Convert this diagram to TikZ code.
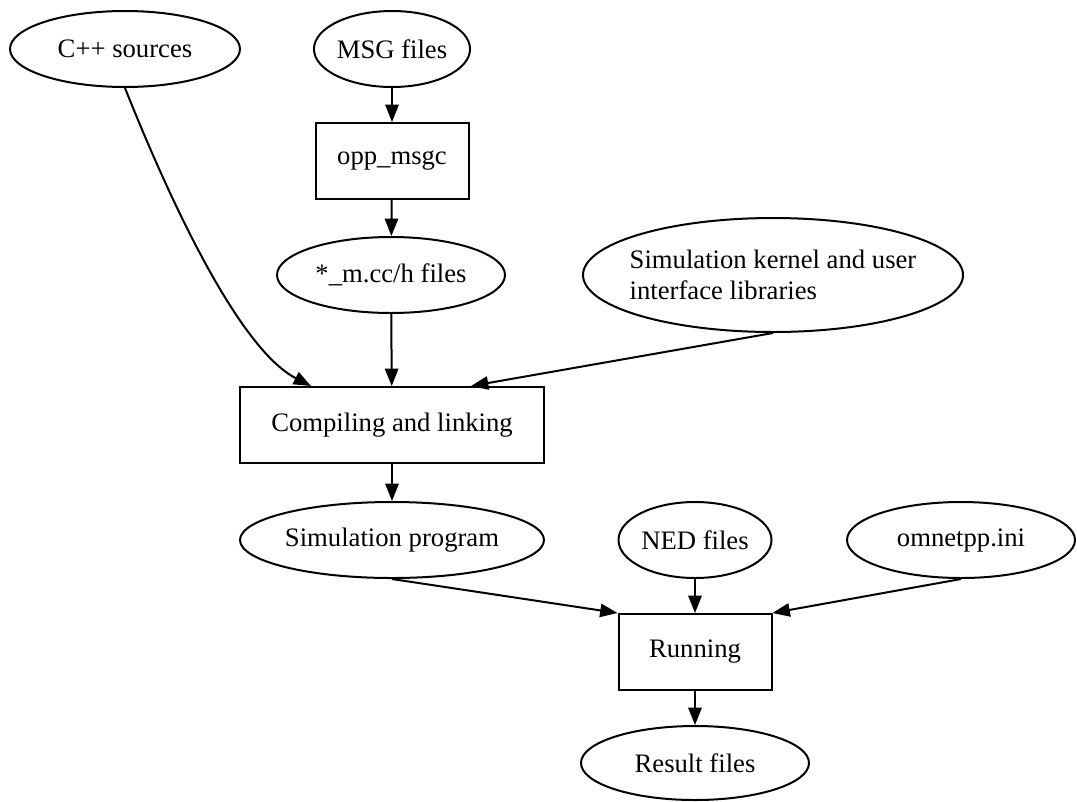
\documentclass[tikz,border=0pt]{standalone}
\usepackage{fontspec}
\setmainfont{Liberation Serif}
\usetikzlibrary{shapes.geometric,arrows.meta,calc}
\begin{document}
\begin{tikzpicture}[x=0.75pt,y=-0.75pt,
  every node/.style={font=\fontsize{20}{23}\selectfont},
  ell/.style={draw,ellipse,line width=1.5pt,inner sep=0pt,minimum height=57pt},
  box/.style={draw,rectangle,line width=1.5pt,inner sep=0pt,minimum height=57pt},
  conn/.style={line width=1.5pt,-{Triangle[length=13pt,width=10pt]}}]
\useasboundingbox (0,0) rectangle (1077,801);
% row 1
\node[ell,minimum width=172.5pt] (cpp) at (125,49) {C++ sources};
\node[ell,minimum width=114.75pt] (msg) at (392,49) {MSG files};
% row 2
\node[box,minimum width=114.75pt] (opp) at (392,161) {opp\_msgc};
% row 3
\node[ell,minimum width=171pt] (mcc) at (391,275) {*\_m.cc/h files};
\node[ell,minimum width=285pt,minimum height=85.5pt] (kern) at (773,275) {};
\node[align=left,inner sep=0pt] (kernt) at (kern.center) {Simulation kernel and user\\interface libraries};
% row 4
\node[box,minimum width=228pt] (comp) at (392,425) {Compiling and linking};
% row 5
\node[ell,minimum width=228pt] (simp) at (392,540) {Simulation program};
\node[ell,minimum width=114.75pt] (ned) at (695,540) {NED files};
\node[ell,minimum width=171pt] (omni) at (961,540) {omnetpp.ini};
% row 6
\node[box,minimum width=114.75pt] (run) at (695,652) {Running};
% row 7
\node[ell,minimum width=171pt,minimum height=55.5pt] (res) at (695,763) {Result files};
% connectors
\draw[conn] (msg) -- (opp);
\draw[conn] (opp) -- (mcc);
\draw[conn] (mcc) -- (comp);
\draw[conn] (cpp.south) .. controls +(45,113) and +(-72,-37) .. ($(comp.north west)+(72,0)$);
\draw[conn] (kern.south) -- ($(comp.north west)+(232,0)$);
\draw[conn] (comp) -- (simp);
\draw[conn] (simp.south) -- (run.north west);
\draw[conn] (ned) -- (run);
\draw[conn] (omni.south) -- (run.north east);
\draw[conn] (run) -- (res);
\end{tikzpicture}
\end{document}
